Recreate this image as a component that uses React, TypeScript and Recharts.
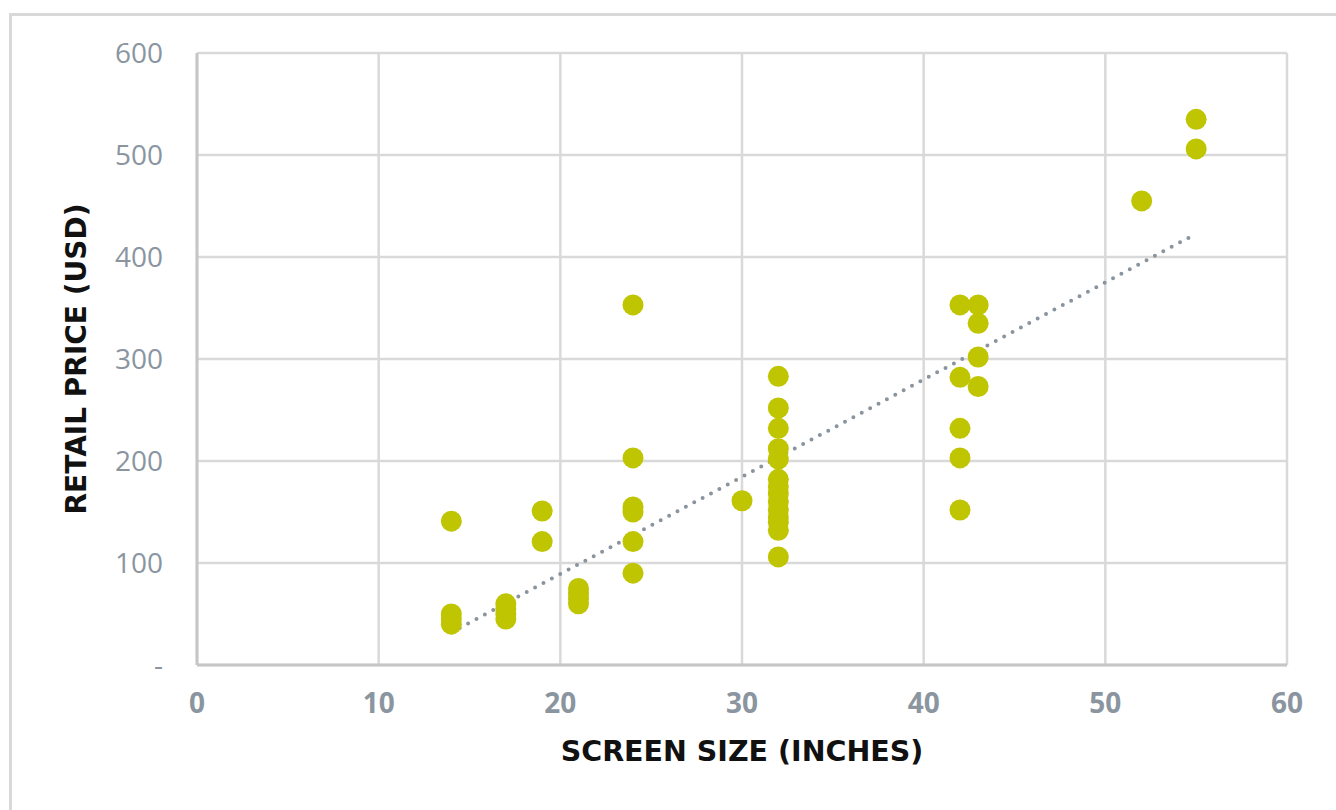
import React from 'react';
import { ScatterChart, Scatter, XAxis, YAxis, CartesianGrid, ReferenceLine } from 'recharts';

// screen size (inches) and retail price (USD), one entry per TV
const screenSizes = [
  14, 14, 14, 14,
  17, 17, 17, 17,
  19, 19,
  21, 21, 21, 21,
  24, 24, 24, 24, 24, 24,
  30,
  32, 32, 32, 32, 32, 32, 32, 32, 32, 32, 32, 32, 32, 32,
  42, 42, 42, 42, 42,
  43, 43, 43, 43,
  52,
  55, 55,
];
const retailPrices = [
  141, 50, 45, 40,
  60, 55, 50, 45,
  151, 121,
  75, 70, 65, 60,
  353, 203, 155, 150, 121, 90,
  161,
  283, 252, 232, 212, 202, 182, 175, 168, 160, 152, 145, 140, 132, 106,
  353, 282, 232, 203, 152,
  353, 335, 302, 273,
  455,
  535, 506,
];

// dotted trend line end points
const trendX = [14, 54.6];
const trendY = [32, 419];

const xTicks = [0, 10, 20, 30, 40, 50, 60];
const yTicks = [0, 100, 200, 300, 400, 500, 600];

const points = screenSizes.map((size, i) => ({ size, price: retailPrices[i] }));

const DOT = '#bfc500';
const GRID = '#d9d9d9';
const AXIS = '#c6c6c6';
const TICK = '#8a959f';
const FONT = '"Open Sans"';
const TITLE_FONT = '"DejaVu Sans"';

const Dot = (props: any) => <circle cx={props.cx} cy={props.cy} r={10.5} fill={DOT} />;

const App: React.FC = () => {
  return (
    <div style={{ position: 'fixed', left: 0, top: 0, width: 1336, height: 810, overflow: 'hidden', background: '#fff' }}>
      <div
        style={{
          position: 'absolute', left: 9, top: 13, width: 1400, height: 900,
          borderTop: `3px solid ${GRID}`, borderLeft: `3px solid ${GRID}`,
        }}
      />
      <div style={{ position: 'absolute', left: 0, top: 0 }}>
        <ScatterChart width={1336} height={810} margin={{ top: 53, right: 49, left: 0, bottom: 0 }}>
          <CartesianGrid stroke={GRID} strokeWidth={2.5} horizontalValues={yTicks} verticalValues={xTicks} />
          <XAxis
            type="number"
            dataKey="size"
            domain={[0, 60]}
            ticks={xTicks}
            height={145}
            stroke={AXIS}
            strokeWidth={3}
            tickLine={false}
            tickSize={0}
            tickMargin={28}
            tick={{ fill: TICK, fontSize: 28, fontWeight: 700, fontFamily: FONT }}
            label={{
              value: 'SCREEN SIZE (INCHES)', position: 'center', dy: 13,
              fill: '#111', fontSize: 28.5, fontWeight: 700, fontFamily: TITLE_FONT,
            }}
          />
          <YAxis
            type="number"
            dataKey="price"
            domain={[0, 600]}
            ticks={yTicks}
            width={197}
            stroke={AXIS}
            strokeWidth={3}
            tickLine={false}
            tickSize={0}
            tickMargin={34}
            tickFormatter={(v: number) => (v === 0 ? '-' : String(v))}
            tick={{ fill: TICK, fontSize: 28, fontFamily: FONT }}
            label={{
              value: 'RETAIL PRICE (USD)', position: 'center', angle: -90, dx: -22,
              fill: '#111', fontSize: 28, fontWeight: 700, fontFamily: TITLE_FONT,
            }}
          />
          <Scatter data={points} shape={Dot} isAnimationActive={false} />
          <ReferenceLine
            segment={[{ x: trendX[0], y: trendY[0] }, { x: trendX[1], y: trendY[1] }]}
            stroke="#8a949e"
            strokeWidth={4}
            strokeDasharray="0 9.5"
            strokeLinecap="round"
            ifOverflow="visible"
          />
        </ScatterChart>
      </div>
    </div>
  );
};

export default App;
